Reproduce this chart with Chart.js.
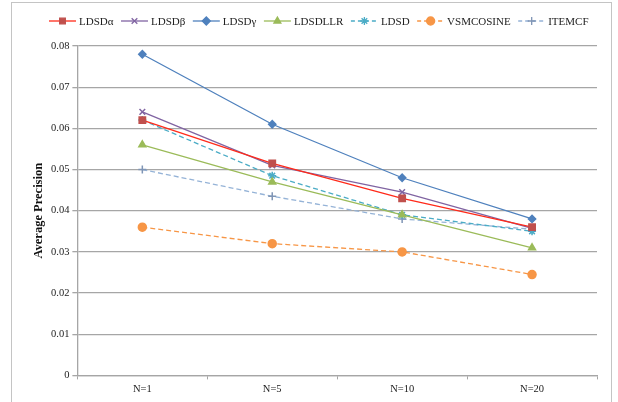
<!DOCTYPE html>
<html>
<head>
<meta charset="utf-8">
<script src="https://cdn.jsdelivr.net/npm/chart.js@4"></script>
<style>
    body { margin: 0; background: #fff; }
    #wrap { position: relative; width: 618px; height: 402px; overflow: hidden; }
    #frame { position: absolute; left: 11px; top: 2px; width: 599px; height: 420px; border: 1.5px solid #c4c4c4; }
    canvas { position: absolute; left: 0; top: 0; }
</style>
</head>
<body>
<div id="wrap">
    <div id="frame"></div>
    <canvas id="chart" width="618" height="402"></canvas>
</div>
<script>
// Chart data
const categories = ['N=1', 'N=5', 'N=10', 'N=20'];
const ldsdAlpha = [0.062, 0.0515, 0.043, 0.036];
const ldsdBeta = [0.064, 0.051, 0.0445, 0.0357];
const ldsdGamma = [0.078, 0.061, 0.048, 0.038];
const ldsdLLR = [0.056, 0.047, 0.039, 0.031];
const ldsd = [0.062, 0.0485, 0.039, 0.035];
const vsmCosine = [0.036, 0.032, 0.030, 0.0245];
const itemCF = [0.050, 0.0435, 0.038, 0.0355];

const serif = '"Liberation Serif", "DejaVu Serif", serif';

function series(label, data, line, fill, style, dashed, radius) {
    return {
        label: label,
        data: data,
        borderColor: line,
        backgroundColor: fill,
        pointBorderColor: fill,
        pointBackgroundColor: fill,
        pointStyle: style,
        pointRadius: radius || 4,
        pointBorderWidth: 1.5,
        borderWidth: 1.3,
        borderDash: dashed ? [5, 3] : [],
        tension: 0
    };
}

// Excel-like legend: short line with marker in the middle, then label
const lineLegend = {
    id: 'lineLegend',
    afterDraw(chart) {
        const ctx = chart.ctx;
        let x = 49;
        const y = 21;
        ctx.save();
        ctx.font = '11px ' + serif;
        ctx.textBaseline = 'middle';
        chart.data.datasets.forEach(ds => {
            ctx.strokeStyle = ds.borderColor;
            ctx.lineWidth = 1.3;
            ctx.setLineDash(ds.borderDash.length ? [4, 3] : []);
            ctx.beginPath();
            ctx.moveTo(x, y);
            ctx.lineTo(x + 27, y);
            ctx.stroke();
            ctx.setLineDash([]);
            ctx.fillStyle = ds.pointBackgroundColor;
            ctx.strokeStyle = ds.pointBorderColor;
            ctx.lineWidth = 1.3;
            Chart.helpers.drawPoint(ctx, { pointStyle: ds.pointStyle, radius: 4, rotation: 0, borderWidth: 1.3 }, x + 13.5, y);
            ctx.fillStyle = '#222';
            ctx.fillText(ds.label, x + 30, y + 1);
            x += 30 + ctx.measureText(ds.label).width + 7.5;
        });
        ctx.restore();
    }
};

new Chart(document.getElementById('chart'), {
    type: 'line',
    data: {
        labels: categories,
        datasets: [
            series('LDSDα', ldsdAlpha, '#ff2a1a', '#c0504d', 'rect', false, 4.5),
            series('LDSDβ', ldsdBeta, '#8064a2', '#8064a2', 'crossRot', false),
            series('LDSDγ', ldsdGamma, '#4f81bd', '#4f81bd', 'rectRot', false, 3.6),
            series('LDSDLLR', ldsdLLR, '#9bbb59', '#9bbb59', 'triangle', false),
            series('LDSD', ldsd, '#4bacc6', '#4bacc6', 'star', true),
            series('VSMCOSINE', vsmCosine, '#f79646', '#f79646', 'circle', true),
            series('ITEMCF', itemCF, '#95b3d7', '#7f95b5', 'cross', true)
        ]
    },
    options: {
        responsive: false,
        animation: false,
        layout: { padding: { left: 31, right: 21, top: 46, bottom: 2 } },
        plugins: {
            legend: { display: false },
            tooltip: { enabled: false }
        },
        scales: {
            x: {
                offset: true,
                grid: {
                    offset: true,
                    drawOnChartArea: false,
                    drawTicks: true,
                    tickLength: 4,
                    color: '#a6a6a6'
                },
                border: { color: '#a6a6a6', width: 1.3 },
                ticks: { color: '#222', font: { family: serif, size: 10.5 }, padding: 4 }
            },
            y: {
                min: 0,
                max: 0.08,
                ticks: {
                    stepSize: 0.01,
                    color: '#222',
                    padding: 3,
                    font: { family: serif, size: 10.5 },
                    callback: v => (Math.round(v * 100) / 100).toString()
                },
                grid: { color: '#a6a6a6', lineWidth: 1.3, tickLength: 5 },
                border: { color: '#a6a6a6', width: 1.3 },
                title: {
                    display: true,
                    text: 'Average Precision',
                    color: '#111',
                    font: { family: serif, size: 12.5, weight: 'bold' },
                    padding: { top: 0, bottom: 2 }
                }
            }
        }
    },
    plugins: [lineLegend]
});
</script>
</body>
</html>
